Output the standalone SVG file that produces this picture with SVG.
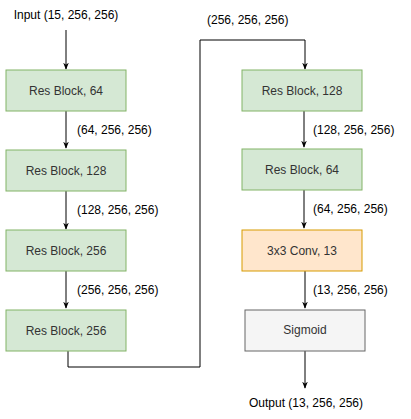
<svg xmlns="http://www.w3.org/2000/svg" width="411" height="419" viewBox="0 0 411 419">
<defs>
<style>
text{font-family:"Liberation Sans",Arial,sans-serif;font-size:12px;fill:#000}
.lbl{fill:#333}
.c{text-anchor:middle}
.g{fill:#d5e8d4;stroke:#82b366;stroke-width:1}
.o{fill:#ffe6cc;stroke:#d79b00;stroke-width:1}
.s{fill:#f5f5f5;stroke:#666666;stroke-width:1}
.e{fill:none;stroke:#000;stroke-width:1}
</style>
<marker id="ah" viewBox="0 0 10 10" refX="9" refY="5" markerWidth="7" markerHeight="7" orient="auto" markerUnits="userSpaceOnUse">
<path d="M0,1 L10,5 L0,9 L3,5 Z" fill="#000"/>
</marker>
</defs>
<rect width="411" height="419" fill="#fff"/>
<g id="connectors">
<path class="e" d="M66,30 V69" marker-end="url(#ah)"/>
<path class="e" d="M66,111 V148" marker-end="url(#ah)"/>
<path class="e" d="M66,191 V229" marker-end="url(#ah)"/>
<path class="e" d="M66,271 V308" marker-end="url(#ah)"/>
<path class="e" d="M68,351 V367 H200 V40 H305 V69" marker-end="url(#ah)"/>
<path class="e" d="M304,111 V147" marker-end="url(#ah)"/>
<path class="e" d="M304,190 V228" marker-end="url(#ah)"/>
<path class="e" d="M305,271 V308" marker-end="url(#ah)"/>
<path class="e" d="M305,351 V388" marker-end="url(#ah)"/>
<text x="77" y="134">(64, 256, 256)</text>
<text x="77" y="214">(128, 256, 256)</text>
<text x="77" y="294">(256, 256, 256)</text>
<text x="207" y="24">(256, 256, 256)</text>
<text x="313" y="134">(128, 256, 256)</text>
<text x="313" y="213">(64, 256, 256)</text>
<text x="313" y="294">(13, 256, 256)</text>
</g>
<g id="input"><text class="c" x="66" y="19">Input (15, 256, 256)</text></g>
<g id="output"><text class="c" x="306" y="407">Output (13, 256, 256)</text></g>
<g id="res64a"><rect class="g" x="6" y="70" width="120" height="41"/><text class="c lbl" x="66" y="95">Res Block, 64</text></g>
<g id="res128a"><rect class="g" x="6" y="150" width="120" height="41"/><text class="c lbl" x="66" y="175">Res Block, 128</text></g>
<g id="res256a"><rect class="g" x="6" y="230" width="120" height="41"/><text class="c lbl" x="66" y="255">Res Block, 256</text></g>
<g id="res256b"><rect class="g" x="6" y="310" width="120" height="41"/><text class="c lbl" x="66" y="335">Res Block, 256</text></g>
<g id="res128b"><rect class="g" x="242" y="70" width="120" height="41"/><text class="c lbl" x="302" y="95">Res Block, 128</text></g>
<g id="res64b"><rect class="g" x="242" y="149" width="120" height="41"/><text class="c lbl" x="302" y="174">Res Block, 64</text></g>
<g id="conv"><rect class="o" x="242" y="230" width="120" height="41"/><text class="c lbl" x="302" y="255">3x3 Conv, 13</text></g>
<g id="sigmoid"><rect class="s" x="245" y="310" width="120" height="41"/><text class="c lbl" x="305" y="334">Sigmoid</text></g>
</svg>
